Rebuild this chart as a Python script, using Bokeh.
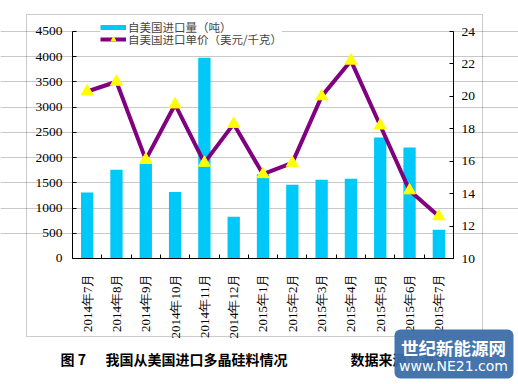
import math
from bokeh.plotting import figure
from bokeh.models import (ColumnDataSource, Range1d, LinearAxis, Legend, LegendItem, Grid,
                          Label, BoxAnnotation, FixedTicker)
from bokeh.embed import file_html
from bokeh.resources import INLINE

months = ["2014年7月", "2014年8月", "2014年9月", "2014年10月", "2014年11月", "2014年12月",
          "2015年1月", "2015年2月", "2015年3月", "2015年4月", "2015年5月", "2015年6月", "2015年7月"]
volume = [1310, 1760, 1880, 1320, 3980, 830, 1670, 1460, 1560, 1580, 2400, 2200, 570]
price = [20.3, 20.9, 16.1, 19.5, 15.9, 18.3, 15.2, 15.9, 20.0, 22.2, 18.2, 14.2, 12.6]
vol_ticks = [0, 500, 1000, 1500, 2000, 2500, 3000, 3500, 4000, 4500]
price_ticks = [10, 12, 14, 16, 18, 20, 22, 24]

n = len(months)
xpos = [i + 0.5 for i in range(n)]
src = ColumnDataSource(dict(x=xpos, v=volume, p=price))

W, H = 518, 384
p = figure(width=W, height=H, x_range=Range1d(-2.4566, n + 2.2178), y_range=Range1d(-2497.8, 5114.5),
           x_axis_type=None, y_axis_type=None,
           output_backend="svg", toolbar_location=None,
           min_border=0, min_border_left=0, min_border_right=0, min_border_top=0, min_border_bottom=0)
p.outline_line_color = None
p.background_fill_color = "white"
p.border_fill_color = "white"
p.extra_y_ranges = {"price": Range1d(2.2291, 25.9119)}

grid = Grid(dimension=1, ticker=FixedTicker(ticks=vol_ticks[1:]), bounds=(0, n),
            grid_line_color="#c8c8c8", grid_line_width=1)
p.add_layout(grid)

bars = p.vbar(x="x", top="v", width=0.42, source=src, fill_color="#00c8f8", line_color=None)
ln = p.line(x="x", y="p", source=src, y_range_name="price", line_color="#800080", line_width=4)
tri = p.scatter(x="x", y="p", source=src, y_range_name="price", marker="triangle", size=12,
                fill_color="#ffff00", line_color="#ffff00")
dummy = p.line(x=[-10, -10], y=[-9000, -9000], line_color="#00c8f8", line_width=5)

num_font = "'Liberation Serif', 'Times New Roman', serif"

ay = LinearAxis(ticker=FixedTicker(ticks=vol_ticks), bounds=(0, 4500), fixed_location=0)
ay.major_tick_in = 4
ay.major_tick_out = 0
ay.minor_tick_line_color = None
ay.major_label_standoff = 10
ay.major_label_text_font = num_font
ay.major_label_text_font_size = "13.5px"
ay.major_label_text_color = "black"
ay.axis_line_color = "black"
p.add_layout(ay, "left")

ay2 = LinearAxis(y_range_name="price", ticker=FixedTicker(ticks=price_ticks), bounds=(10, 24),
                 fixed_location=n)
ay2.major_tick_in = 4
ay2.major_tick_out = 0
ay2.minor_tick_line_color = None
ay2.major_label_standoff = 8
ay2.major_label_text_font = num_font
ay2.major_label_text_font_size = "13.5px"
ay2.major_label_text_color = "black"
ay2.axis_line_color = "black"
p.add_layout(ay2, "right")

ax_lab = LinearAxis(ticker=FixedTicker(ticks=xpos, minor_ticks=list(range(n + 1))),
                    bounds=(0, n), fixed_location=0,
                    major_label_overrides={x: m for x, m in zip(xpos, months)})
ax_lab.major_label_orientation = math.pi / 2
ax_lab.major_tick_line_color = None
ax_lab.minor_tick_in = 4
ax_lab.minor_tick_out = 0
ax_lab.minor_tick_line_color = "black"
ax_lab.major_label_standoff = 9
ax_lab.major_label_text_font = num_font
ax_lab.major_label_text_font_size = "13px"
ax_lab.major_label_text_color = "black"
ax_lab.axis_line_color = "black"
p.add_layout(ax_lab, "below")

leg_kw = dict(padding=0, spacing=0, margin=0, glyph_width=26, glyph_height=12, label_height=12,
              label_standoff=2, label_text_font="'Noto Sans CJK SC'", label_text_font_size="11.5px",
              background_fill_color="white", background_fill_alpha=1, border_line_color=None)
leg2 = Legend(items=[LegendItem(label="自美国进口单价（美元/千克）", renderers=[ln, tri])],
              location=(100, 337), **leg_kw)
leg1 = Legend(items=[LegendItem(label="自美国进口量（吨）", renderers=[dummy])],
              location=(100, 349), **leg_kw)
p.add_layout(leg2, "center")
p.add_layout(leg1, "center")

frame = BoxAnnotation(left=26, right=482, top=370, bottom=48,
                      left_units="screen", right_units="screen", top_units="screen", bottom_units="screen",
                      fill_color=None, line_color="#555555", line_width=1)
p.add_layout(frame)

cap_font = "'Noto Sans CJK SC'"
for txt, x in [("图 7", 60), ("我国从美国进口多晶硅料情况", 105), ("数据来源：海关", 350)]:
    p.add_layout(Label(x=x, y=26, x_units="screen", y_units="screen", text=txt,
                       text_font=cap_font, text_font_size="14px", text_font_style="bold",
                       text_baseline="middle", text_color="black"))

wm = BoxAnnotation(left=394, right=513, top=55, bottom=6,
                   left_units="screen", right_units="screen", top_units="screen", bottom_units="screen",
                   fill_color="#3b6ea8", fill_alpha=0.95, line_color=None, border_radius=6)
p.add_layout(wm)
p.add_layout(Label(x=453, y=37, x_units="screen", y_units="screen", text="世纪新能源网",
                   text_font="'Noto Sans CJK SC'", text_font_size="17.5px", text_font_style="bold",
                   text_align="center", text_baseline="middle", text_color="white"))
p.add_layout(Label(x=453, y=19, x_units="screen", y_units="screen", text="www.NE21.com",
                   text_font="'DejaVu Sans'", text_font_size="14px",
                   text_align="center", text_baseline="middle", text_color="white"))

open("out.html", "w").write(file_html(p, INLINE))
